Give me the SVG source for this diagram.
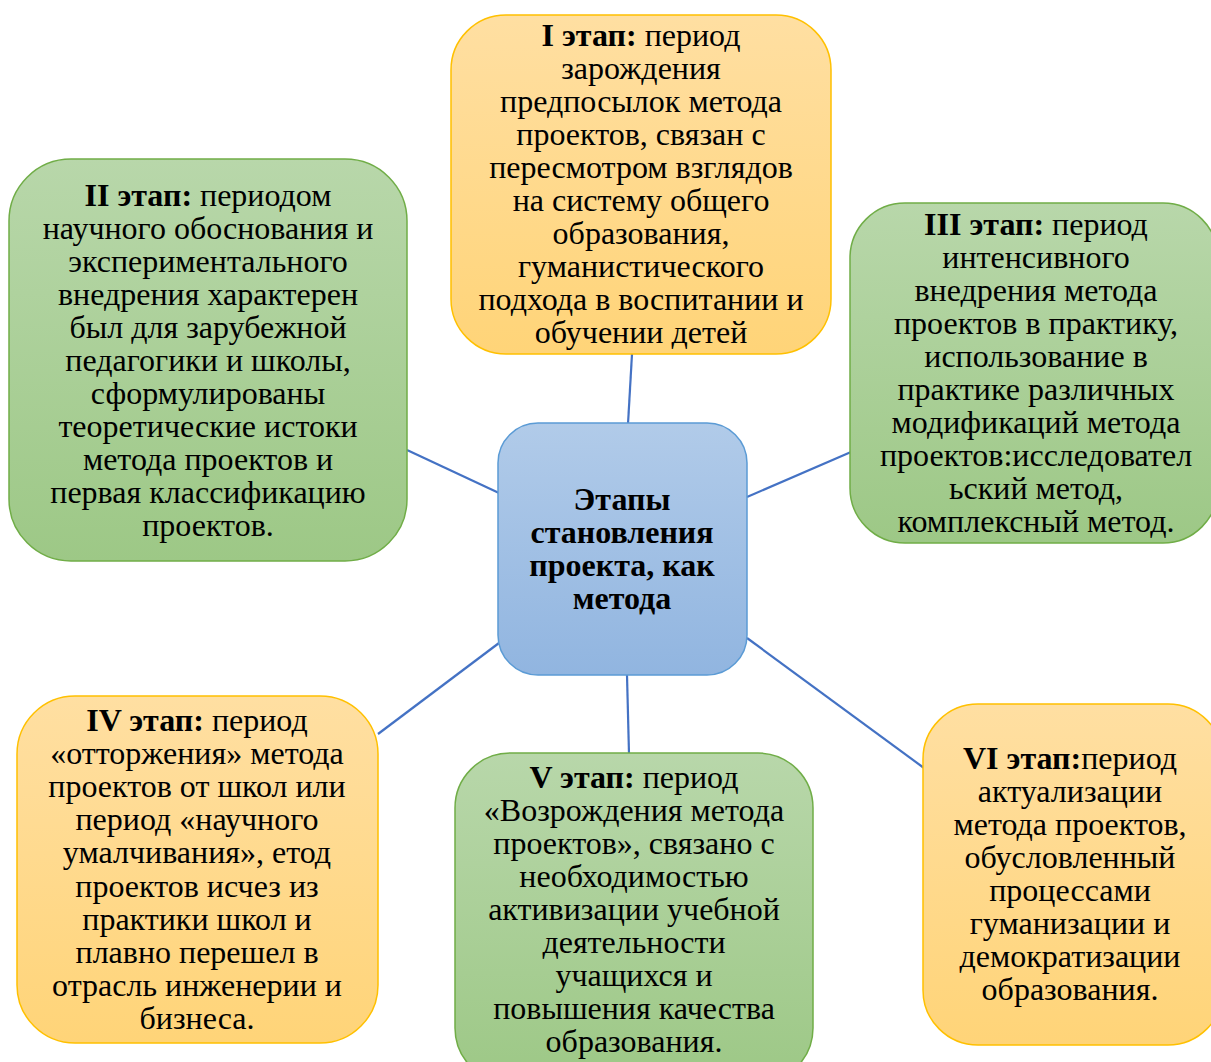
<svg xmlns="http://www.w3.org/2000/svg" width="1211" height="1062" viewBox="0 0 1211 1062">
<defs>
<linearGradient id="gOr" x1="0" y1="0" x2="0" y2="1"><stop offset="0" stop-color="#FFDFA2"/><stop offset="1" stop-color="#FFD478"/></linearGradient>
<linearGradient id="gGr" x1="0" y1="0" x2="0" y2="1"><stop offset="0" stop-color="#B8D7AA"/><stop offset="1" stop-color="#9DC886"/></linearGradient>
<linearGradient id="gBl" x1="0" y1="0" x2="0" y2="1"><stop offset="0" stop-color="#B1CBE9"/><stop offset="1" stop-color="#91B5E0"/></linearGradient>
<style>
.or{fill:url(#gOr);stroke:#FFC000;stroke-width:1.5}
.gr{fill:url(#gGr);stroke:#70AD47;stroke-width:1.5}
.bl{fill:url(#gBl);stroke:#5B9BD5;stroke-width:1.5}
text{font-family:"Liberation Serif","Times New Roman",serif;font-size:32px;fill:#000;text-anchor:middle}
.b{font-weight:bold}
.conn line{stroke:#4472C4;stroke-width:2.2}
</style>
</defs>
<rect width="1211" height="1062" fill="#fff"/>
<g class="conn">
<line x1="632" y1="354" x2="628" y2="424"/>
<line x1="407" y1="450" x2="499" y2="493"/>
<line x1="747" y1="497" x2="851" y2="452"/>
<line x1="378" y1="734" x2="499" y2="643"/>
<line x1="627" y1="675" x2="629" y2="754"/>
<line x1="747" y1="638" x2="924" y2="768"/>
</g>
<g id="n1">
<rect class="or" x="451" y="15" width="380" height="339" rx="55"/>
<text x="641" y="46"><tspan class="b">I этап:</tspan> период</text>
<text x="641" y="79">зарождения</text>
<text x="641" y="112">предпосылок метода</text>
<text x="641" y="145">проектов, связан с</text>
<text x="641" y="178">пересмотром взглядов</text>
<text x="641" y="211">на систему общего</text>
<text x="641" y="244">образования,</text>
<text x="641" y="277">гуманистического</text>
<text x="641" y="310">подхода в воспитании и</text>
<text x="641" y="343">обучении детей</text>
</g>
<g id="n2">
<rect class="gr" x="9" y="159" width="398" height="402" rx="62"/>
<text x="208" y="206"><tspan class="b">II этап:</tspan> периодом</text>
<text x="208" y="239">научного обоснования и</text>
<text x="208" y="272">экспериментального</text>
<text x="208" y="305">внедрения характерен</text>
<text x="208" y="338">был для зарубежной</text>
<text x="208" y="371">педагогики и школы,</text>
<text x="208" y="404">сформулированы</text>
<text x="208" y="437">теоретические истоки</text>
<text x="208" y="470">метода проектов и</text>
<text x="208" y="503">первая классификацию</text>
<text x="208" y="536">проектов.</text>
</g>
<g id="n3">
<rect class="gr" x="850" y="203" width="368" height="340" rx="55"/>
<text x="1036" y="235"><tspan class="b">III этап:</tspan> период</text>
<text x="1036" y="268">интенсивного</text>
<text x="1036" y="301">внедрения метода</text>
<text x="1036" y="334">проектов в практику,</text>
<text x="1036" y="367">использование в</text>
<text x="1036" y="400">практике различных</text>
<text x="1036" y="433">модификаций метода</text>
<text x="1036" y="466">проектов:исследовател</text>
<text x="1036" y="499">ьский метод,</text>
<text x="1036" y="532">комплексный метод.</text>
</g>
<g id="center">
<rect class="bl" x="498" y="423" width="249" height="252" rx="40"/>
<text class="b" x="622" y="510">Этапы</text>
<text class="b" x="622" y="543">становления</text>
<text class="b" x="622" y="576">проекта, как</text>
<text class="b" x="622" y="609">метода</text>
</g>
<g id="n4">
<rect class="or" x="17" y="696" width="361" height="347" rx="58"/>
<text x="197" y="731"><tspan class="b">IV этап:</tspan> период</text>
<text x="197" y="764">«отторжения» метода</text>
<text x="197" y="797">проектов от школ или</text>
<text x="197" y="830">период «научного</text>
<text x="197" y="863">умалчивания», етод</text>
<text x="197" y="897">проектов исчез из</text>
<text x="197" y="930">практики школ и</text>
<text x="197" y="963">плавно перешел в</text>
<text x="197" y="996">отрасль инженерии и</text>
<text x="197" y="1029">бизнеса.</text>
</g>
<g id="n5">
<rect class="gr" x="455" y="753" width="358" height="330" rx="55"/>
<text x="634" y="788"><tspan class="b">V этап:</tspan> период</text>
<text x="634" y="821">«Возрождения метода</text>
<text x="634" y="854">проектов», связано с</text>
<text x="634" y="887">необходимостью</text>
<text x="634" y="920">активизации учебной</text>
<text x="634" y="953">деятельности</text>
<text x="634" y="986">учащихся и</text>
<text x="634" y="1019">повышения качества</text>
<text x="634" y="1052">образования.</text>
</g>
<g id="n6">
<rect class="or" x="923" y="704" width="300" height="341" rx="55"/>
<text x="1070" y="769"><tspan class="b">VI этап:</tspan>период</text>
<text x="1070" y="802">актуализации</text>
<text x="1070" y="835">метода проектов,</text>
<text x="1070" y="868">обусловленный</text>
<text x="1070" y="901">процессами</text>
<text x="1070" y="934">гуманизации и</text>
<text x="1070" y="967">демократизации</text>
<text x="1070" y="1000">образования.</text>
</g>
</svg>
